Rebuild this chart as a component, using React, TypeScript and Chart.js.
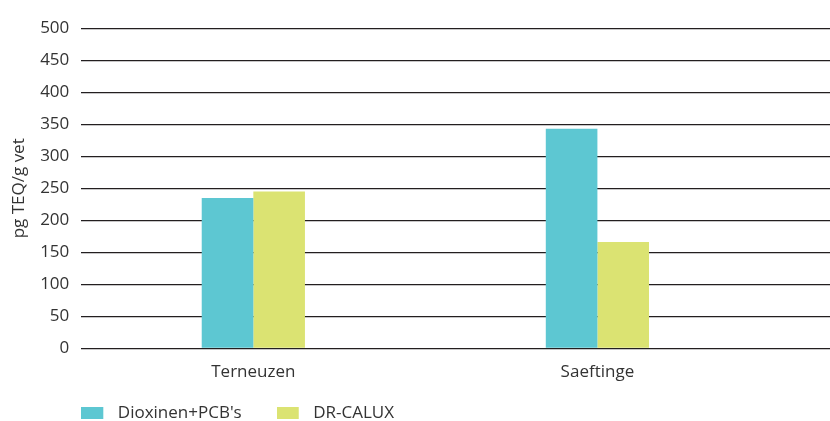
import React, { useEffect, useRef } from 'react';
import { Chart, registerables } from 'chart.js';

Chart.register(...registerables);

// ---- data ----
const categories = ['Terneuzen', 'Saeftinge'];
const seriesNames = ["Dioxinen+PCB's", 'DR-CALUX'];
const dioxinenPcb = [235, 343];
const drCalux = [245, 166];
const yMin = 0;
const yMax = 500;
const yStep = 50;
const yAxisTitle = 'pg TEQ/g vet';

// ---- style ----
const CYAN = '#5DC7D2';
const LIME = '#DBE372';
const TEXT = '#333333';
const GRID = '#231F20';
const FONT = "'Open Sans', sans-serif";

function legendSwatch(color: string): HTMLCanvasElement {
  const c = document.createElement('canvas');
  c.width = 28;
  c.height = 12;
  const g = c.getContext('2d');
  if (g) {
    g.fillStyle = color;
    g.fillRect(0, 0, 22, 12);
  }
  return c;
}

// place the legend box (drawn by Chart.js) where the reference has it
const legendPlacement = {
  id: 'legendPlacement',
  afterLayout(chart: any) {
    const l = chart.legend;
    if (!l) return;
    const w = l.width;
    const h = l.height;
    l.left = 46.3;
    l.right = l.left + w;
    l.top = 369.5;
    l.bottom = l.top + h;
  },
};

export default function App() {
  const ref = useRef<HTMLCanvasElement>(null);

  useEffect(() => {
    const canvas = ref.current;
    if (!canvas) return;
    const swatches = [legendSwatch(CYAN), legendSwatch(LIME)];
    const toPoints = (vals: number[]) => vals.map((y, i) => ({ x: i + 0.5, y }));

    const chart = new Chart(canvas, {
      type: 'bar',
      data: {
        datasets: [
          { label: seriesNames[0], data: toPoints(dioxinenPcb), backgroundColor: CYAN, borderWidth: 0 },
          { label: seriesNames[1], data: toPoints(drCalux), backgroundColor: LIME, borderWidth: 0 },
        ],
      },
      plugins: [legendPlacement],
      options: {
        responsive: false,
        animation: false,
        devicePixelRatio: 1,
        layout: { padding: { left: 0, top: 28.3, right: 0, bottom: -24.3 } },
        datasets: { bar: { categoryPercentage: 0.3, barPercentage: 1.0 } },
        font: { family: FONT },
        plugins: {
          tooltip: { enabled: false },
          legend: {
            position: 'bottom',
            align: 'start',
            labels: {
              font: { family: FONT, size: 17 },
              color: TEXT,
              usePointStyle: true,
              pointStyleWidth: 28,
              boxHeight: 12,
              padding: 35,
              generateLabels: (ch: any) =>
                Chart.defaults.plugins.legend.labels
                  .generateLabels(ch)
                  .map((it: any, i: number) => ({ ...it, pointStyle: swatches[i] })),
            },
          },
        },
        scales: {
          x: {
            type: 'linear',
            min: 0,
            max: 2.176,
            bounds: 'data',
            offset: false,
            grid: { display: false, drawTicks: false, offset: false },
            border: { display: false },
            afterBuildTicks: (scale: any) => {
              scale.ticks = categories.map((_, i) => ({ value: i + 0.5 }));
            },
            afterFit: (scale: any) => {
              scale.height = 35;
            },
            ticks: {
              autoSkip: false,
              maxRotation: 0,
              padding: 14,
              color: TEXT,
              font: { family: FONT, size: 17 },
              callback: (v: any) => categories[Math.round(Number(v) - 0.5)] ?? '',
            },
          },
          y: {
            min: yMin,
            max: yMax,
            grid: { color: GRID, lineWidth: 1.3, drawTicks: false },
            border: { display: false },
            afterFit: (scale: any) => {
              scale.width = 81.3;
            },
            ticks: {
              stepSize: yStep,
              padding: 12,
              color: TEXT,
              font: { family: FONT, size: 17 },
            },
            title: {
              display: true,
              text: yAxisTitle,
              color: TEXT,
              font: { family: FONT, size: 17 },
              padding: { top: 8.8, bottom: 0 },
            },
          },
        },
      } as any,
    });
    return () => chart.destroy();
  }, []);

  return (
    <div style={{ position: 'fixed', left: 0, top: 0, width: 830, height: 421, background: '#fff' }}>
      <canvas ref={ref} width={830} height={421} style={{ display: 'block', width: 830, height: 421 }} />
    </div>
  );
}
